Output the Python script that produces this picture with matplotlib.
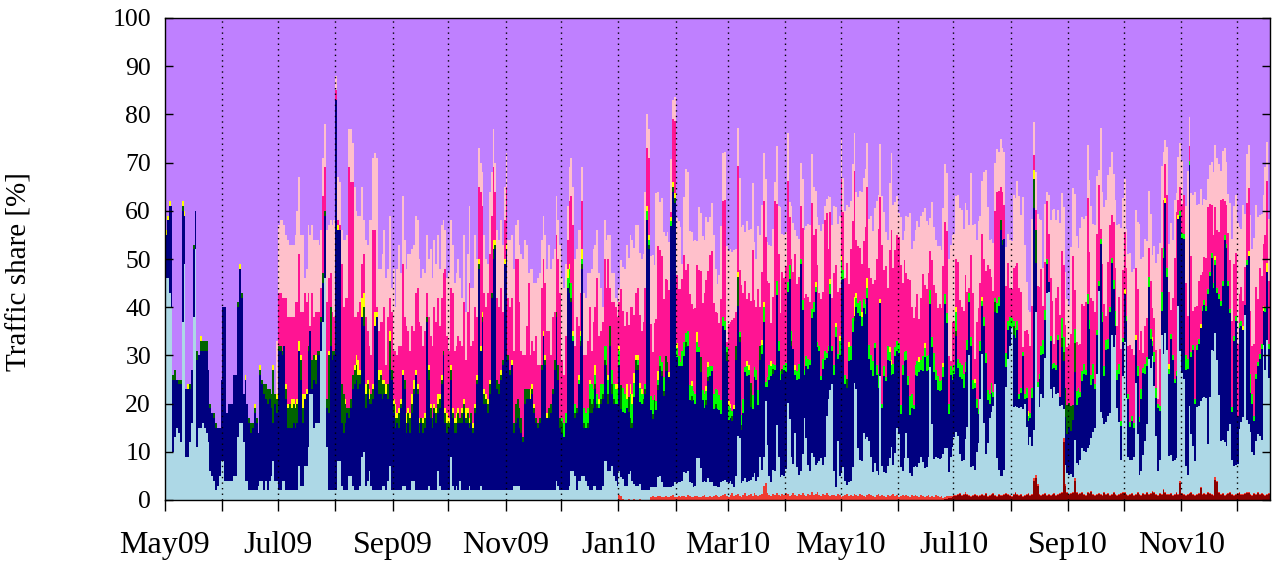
import numpy as np
import matplotlib
matplotlib.use("Agg")
import matplotlib.pyplot as plt

# ---------------- data (daily traffic shares in %, starting 2009-05-01) ----------------
start_date = "2009-05-01"
tick_labels = ["May09", "Jul09", "Sep09", "Nov09", "Jan10", "Mar10",
               "May10", "Jul10", "Sep10", "Nov10"]

light_blue = [
    46,46,43,40,10,13,15,14,12,37, 49,9,9,12,16,38,52,11,15,15, 16,15,14,12,6,5,4,2,3,5, 8,8,4,4,4,4,4,5,5,13, 16,16,12,4,4,2,2,2,2,2, 3,4,4,2,4,2,4,5,
    8,4,4,2,2,4,4,2,2,2, 2,2,2,2,7,3,3,7,7,11, 22,22,15,16,16,16,31,37,46,11, 2,2,2,2,2,8,8,3,2,2, 2,5,5,3,2,2,2,3,9,10, 3,4,6,3,2,2,2,2,2,3, 3,
    2,4,7,2,2,2,2,2,2,3, 3,2,2,2,4,4,2,2,2,2, 2,2,2,3,2,2,2,2,6,3, 2,2,2,2,2,9,3,2,3,2, 4,2,2,2,2,3,2,2,2,2, 2,3,2,2,2,2,2,2,2,2,
    2,2,2,2,2,2,2,2,2,3, 3,3,3,2,2,2,2,2,2,2, 2,2,2,2,2,2,2,2,2,2, 2,2,4,3,2,2,2,2,2,3, 6,6,5,2,4,4,5,5,4,3, 2,2,3,3,2,2,2,3,8,8, 6,
    6,7,5,4,3,5,4,4,3,3, 5,6,4,3,3,3,3,2,2,2, 2,2,2,2,2,2,4,4,3,2, 2,2,2,2,2,3,3,3,3,3, 5,5,5,3,3,2,2,8,8,6, 3,3,3,4,3,3,2,2,2,2,
    3,3,3,3,3,3,2,2,4,12, 12,3,3,3,3,3,3,4,4,3, 4,8,5,6,17,10,4,3,5,5, 14,8,4,4,4,5,19,16,8,6, 13,6,4,5,8,16,12,6,5,8, 8,6,6,7,8,6,8,16,20,22, 23,
    5,2,11,4,5,6,3,2,3,3, 6,23,22,10,7,7,13,12,12,11, 8,5,7,5,4,25,6,5,5,6, 8,10,6,9,14,13,6,5,8,13, 8,5,4,6,6,6,7,8,7,6, 6,8,27,15,8,8,8,8,8,9,
    10,10,5,8,10,12,13,12,8,7, 7,11,14,29,6,6,5,9,11,20, 29,15,8,11,16,17,18,23,8,5, 4,4,5,22,28,31,35,18,18,18, 18,18,18,19,14,10,12,10,10,34, 20,18,21,20,28,42,42,22,20,22, 21,
    21,18,18,6,4,4,4,4,3,8, 6,6,7,9,9,9,9,10,11,13, 14,25,42,17,16,14,15,16,17,33, 30,33,18,15,7,24,31,20,8,7, 7,8,23,12,4,5,8,11,14,28, 26,28,22,12,5,7,33,28,33,30,
    8,8,7,7,7,39,27,25,24,6, 4,18,12,10,7,18,18,18,20,20, 20,10,20,30,30,30,25,20,11,11, 11,10,13,14,7,6,6,6,13,15, 16,37,15,14,13,9,8,11,12,12, 11,31,26,32,24,
]

navy = [
    9,12,18,21,15,12,10,10,12,23, 10,14,14,11,11,14,8,18,15,16, 15,16,17,15,13,13,13,13,12,10, 17,32,36,14,16,16,16,21,21,27, 32,26,10,21,16,14,12,13,16,14, 11,22,20,20,17,18,17,14,
    8,16,14,29,29,26,28,19,13,13, 13,14,13,14,24,22,13,14,15,20, 13,1,10,8,14,14,6,8,13,8, 16,30,27,28,81,48,48,13,12,14, 16,12,14,20,22,23,21,21,29,26, 16,18,14,17,19,34,36,20,20,18, 19,
    20,17,20,23,16,13,14,13,17,23, 20,12,14,12,14,18,24,20,12,14, 12,13,35,22,15,13,16,14,12,16, 22,28,14,12,13,16,14,12,11,14, 12,14,16,14,14,12,14,12,16,22, 46,28,35,18,18,16,20,40,48,50,
    21,20,23,26,47,50,27,24,26,11, 13,14,12,12,10,18,19,19,19,20, 16,14,13,14,25,32,26,15,15,16, 20,25,34,22,13,12,11,14,42,40, 35,27,12,16,20,28,43,10,11,12, 16,16,16,20,17,17,18,18,20,18, 14,
    26,15,15,16,17,22,14,14,15,16, 13,9,11,18,24,24,17,18,18,20, 56,50,16,14,16,16,18,22,22,19, 24,24,23,54,61,58,26,24,24,24, 24,26,26,17,17,18,17,22,22,20, 17,15,16,20,22,23,16,16,16,16,
    14,32,31,25,13,13,13,16,24,27, 20,11,14,22,22,22,15,14,20,21, 15,20,24,28,3,12,20,22,20,21, 27,22,20,21,22,20,23,29,23,24, 12,18,20,43,30,9,15,20,22,28, 30,36,24,23,16,20,20,12,10,20, 7,
    20,31,17,25,40,39,20,20,25,25, 28,13,17,28,30,28,26,26,29,17, 18,20,24,20,18,15,12,20,19,22, 20,15,19,20,16,17,11,20,20,15, 15,12,14,12,19,19,19,18,19,23, 20,18,13,16,18,16,14,14,14,16,
    30,26,12,17,14,13,20,14,16,17, 15,14,16,11,25,16,17,9,6,10, 10,20,19,9,3,4,2,15,30,34, 51,48,48,4,6,4,0,15,14,16, 2,3,11,1,6,5,4,10,46,10, 0,6,8,9,8,6,2,10,6,4, 5,
    11,2,12,10,10,8,10,9,12,14, 12,14,13,14,16,16,30,24,11,11, 8,8,1,35,20,10,15,14,21,15, 12,2,6,10,7,7,10,16,12,7, 8,6,9,12,11,15,17,14,12,15, 6,2,5,8,13,10,5,20,27,15,
    17,24,21,16,17,18,28,28,29,20, 22,50,16,20,12,12,13,15,18,19, 18,31,25,19,13,14,14,20,28,32, 42,41,30,23,10,26,30,10,21,20, 18,2,32,35,8,10,7,13,14,16, 19,7,12,14,6,
]

dark_green = [
    0,0,0,0,1,2,0,1,1,1, 0,0,0,1,0,1,0,2,0,2, 2,2,2,0,1,0,1,1,0,0, 0,0,0,0,0,0,0,0,0,1, 0,1,0,0,0,1,2,1,1,1, 0,1,1,2,3,3,2,3,
    11,2,3,1,1,1,0,2,4,5, 4,4,4,4,0,4,3,0,0,1, 0,6,5,5,1,1,1,2,1,2, 12,8,2,1,0,0,0,8,8,4, 1,2,2,3,3,3,3,2,0,4, 3,2,1,2,2,0,0,3,4,3, 2,
    0,3,6,2,2,2,1,3,1,0, 2,2,2,3,2,1,0,1,2,1, 2,2,1,2,2,2,1,2,2,2, 1,1,2,2,1,2,1,2,2,2, 1,2,2,1,2,1,2,1,1,1, 1,0,1,2,1,2,2,1,2,1,
    2,2,1,1,0,0,1,1,0,2, 4,4,4,3,1,3,2,2,0,1, 1,1,1,1,1,0,1,0,2,2, 1,2,1,3,2,2,0,0,0,2, 1,0,1,1,0,1,1,1,0,1, 3,2,2,1,1,0,1,1,1,2, 2,
    4,2,1,0,0,0,5,0,0,0, 3,2,1,0,2,1,0,0,1,1, 0,1,0,1,2,0,1,1,1,1, 3,2,0,0,1,1,0,0,0,0, 0,1,0,0,1,0,0,0,0,3, 0,0,1,1,0,0,0,1,0,0,
    0,0,0,2,0,0,1,0,3,6, 1,1,0,0,0,0,5,0,0,0, 0,3,0,0,0,0,0,0,1,0, 0,0,0,1,0,0,0,0,1,0, 0,0,0,0,0,0,0,0,0,0, 0,0,0,0,0,0,0,0,0,0, 0,
    0,0,0,0,0,0,0,2,0,0, 0,1,0,0,0,0,0,0,0,0, 0,0,0,0,0,0,0,0,0,0, 0,0,0,0,0,0,0,0,0,0, 0,0,0,0,0,0,0,0,0,0, 0,0,0,0,0,0,0,0,0,0,
    0,0,0,0,0,0,1,0,0,0, 0,0,0,0,0,0,0,0,0,0, 0,0,0,0,0,0,0,2,0,0, 2,1,0,0,0,0,0,2,0,0, 0,0,0,0,0,0,0,0,6,7, 0,0,0,0,0,0,0,0,0,0, 0,
    0,0,2,2,6,6,5,5,3,6, 0,0,0,0,0,0,0,0,0,0, 0,0,0,0,0,0,0,0,0,0, 0,0,0,0,0,0,0,0,0,0, 0,0,0,0,0,0,0,0,0,0, 0,0,0,0,0,0,0,0,0,0,
    0,0,0,0,0,0,0,0,0,0, 0,0,0,0,0,0,0,0,0,0, 0,0,0,0,0,0,0,0,0,0, 0,0,0,0,0,0,0,0,0,0, 0,0,0,0,0,0,0,0,0,0, 0,0,0,0,0,
]

yellow = [
    1,1,1,0,0,0,0,0,0,1, 1,0,1,0,0,0,0,0,0,1, 0,0,0,0,0,0,0,0,0,0, 0,0,0,0,0,0,0,0,0,0, 1,0,0,1,0,0,0,0,1,0, 0,1,0,0,0,0,0,0,
    1,0,1,0,0,0,0,1,1,0, 2,1,1,1,2,1,3,1,1,0, 0,0,0,1,0,0,0,0,0,0, 1,0,0,0,0,1,0,0,0,1, 0,0,0,0,1,2,3,1,4,3, 2,1,2,0,1,3,1,2,1,1, 1,
    2,0,2,0,1,3,1,1,1,1, 0,2,1,1,2,2,1,1,1,0, 1,1,0,1,1,0,1,1,2,1, 1,0,1,2,1,1,1,1,2,1, 0,1,1,2,1,1,0,1,1,1, 1,1,1,1,1,1,1,0,2,1,
    0,0,1,0,1,1,0,0,1,0, 0,0,0,0,0,0,0,0,2,1, 1,0,0,0,0,1,1,1,0,0, 0,0,0,0,0,0,0,0,2,1, 0,1,0,0,1,1,2,0,0,0, 1,0,0,2,0,1,0,0,0,0, 1,
    0,0,0,1,1,1,0,0,0,3, 0,2,2,2,1,1,1,1,0,0, 1,1,0,0,0,0,2,0,0,0, 0,0,1,1,1,1,1,0,0,0, 0,0,0,0,1,0,0,2,0,0, 0,0,1,1,0,0,0,0,0,0,
    0,0,0,0,1,1,0,1,0,1, 0,0,0,0,1,1,0,0,0,0, 0,0,1,1,0,0,0,1,0,0, 0,0,0,0,0,0,0,0,0,0, 1,0,0,0,0,0,0,0,0,0, 0,1,0,0,0,0,0,0,0,1, 0,
    0,1,0,1,1,0,0,0,1,0, 0,4,1,0,0,1,0,0,2,0, 0,0,0,0,0,1,0,0,0,0, 1,1,0,0,0,0,0,0,0,0, 0,0,0,0,0,0,1,0,0,1, 0,0,0,0,0,0,0,0,0,1,
    0,0,0,0,0,0,1,0,0,0, 0,0,0,0,0,0,1,0,0,0, 1,0,0,0,0,0,0,0,0,0, 0,0,0,0,0,0,0,0,0,0, 0,0,0,0,0,1,0,0,2,0, 0,0,0,0,0,0,0,0,0,0, 0,
    0,0,0,0,0,0,0,0,0,0, 0,0,0,0,0,0,0,0,0,0, 0,0,0,0,0,0,0,0,0,0, 0,0,0,0,0,0,1,0,0,0, 0,0,1,0,0,0,0,0,0,0, 0,1,0,0,0,0,0,0,1,0,
    1,0,0,0,0,1,0,0,0,0, 0,0,0,0,0,0,0,1,0,0, 0,0,0,0,0,1,0,0,0,0, 0,0,0,0,0,0,0,0,0,0, 1,0,0,1,0,0,0,0,0,0, 0,1,0,2,0,
]

# bright green: first appears in Dec 2009 (values from day 179 on)
green_first_day = 179
green = [
    0,0,0,0,0,0,0,0,0,0, 0,0,0,0,0,0,0,0,0,0, 0,0,0,0,0,0,0,0,0,0, 0,0,0,0,0,1,3,2,2,3, 3,1,2,0,1,1,1,3,3,3, 3,4,2,2,2,1,3,2,3,4, 3,
    0,3,3,3,3,3,0,5,4,2, 0,5,4,3,0,1,3,2,1,1, 2,1,3,3,1,2,1,2,2,3, 0,0,0,1,0,0,2,2,1,3, 3,2,3,3,2,2,2,2,1,0, 2,3,2,2,2,1,3,3,4,3,
    3,2,2,1,3,2,1,0,0,0, 1,2,3,1,2,1,0,3,2,2, 3,0,2,3,1,2,3,2,1,1, 3,2,2,0,1,2,2,3,2,0, 1,2,3,1,2,1,2,2,1,2, 2,1,1,1,1,2,2,1,1,2, 1,
    2,2,1,3,4,2,2,0,3,3, 3,0,2,2,3,2,2,2,2,3, 3,3,1,2,3,0,1,2,1,3, 2,2,2,2,2,2,2,2,2,2, 2,4,3,1,2,3,2,2,3,2, 3,3,3,2,4,2,3,2,2,2,
    2,2,2,2,2,2,4,2,3,3, 3,2,2,2,2,2,1,2,1,2, 1,2,2,2,2,2,1,1,2,2, 0,0,0,3,2,2,2,1,2,2, 1,1,1,1,2,1,1,2,0,0, 1,1,2,3,2,1,0,1,1,1, 1,
    1,0,4,3,0,0,0,0,0,3, 3,2,1,2,2,1,2,2,2,3, 1,1,1,1,2,2,2,2,1,1, 2,3,2,2,1,1,0,1,1,1, 1,1,0,2,1,2,1,2,2,2, 2,1,2,2,1,1,4,2,0,2,
    1,1,1,1,1,0,1,1,1,3, 2,1,1,1,1,1,1,0,1,1, 1,1,1,1,1,1,1,1,1,1, 1,1,1,1,1,1,1,0,1,1, 0,0,1,0,4,2,1,1,1,1, 1,0,1,0,1,
]

# pink / light pink: present from late June 2009 (values from day 58 on)
pink_first_day = 58
pink = [
    0,0,0,11,11,11,10,18,18,18, 17,17,21,20,18,9,17,21,18,11, 1,14,8,9,8,8,6,16,9,20, 15,7,8,7,2,1,1,25,18,21, 23,50,45,40,10,8,10,14,7,8, 14,10,9,8,32,17,1,8,10,12, 15,
    4,14,7,12,10,11,12,13,11,22, 13,18,16,13,14,10,16,20,20,19, 15,17,5,10,14,15,20,18,20,14, 16,16,29,16,14,16,24,14,14,15, 16,13,20,10,20,28,14,17,20,12, 15,32,22,20,18,22,26,16,15,10,
    17,16,17,10,8,12,12,13,13,15, 30,29,22,14,17,7,13,22,7,9, 11,17,12,11,16,15,15,17,16,10, 15,10,16,22,26,12,10,16,6,13, 18,22,12,19,10,8,10,11,12,14, 15,7,14,12,24,13,11,13,18,12, 24,
    8,14,17,16,14,9,20,16,14,15, 15,16,18,12,13,14,14,12,15,20, 12,16,15,10,15,17,26,22,22,16, 16,17,17,1,13,15,14,14,15,15, 18,13,14,19,16,17,18,14,16,18, 18,21,22,19,23,24,19,16,16,15,
    21,24,25,1,16,17,19,18,7,22, 13,27,22,18,13,15,17,30,14,13, 21,8,14,21,30,20,17,8,14,34, 16,18,12,20,18,20,21,10,15,16, 23,18,18,11,15,15,13,13,12,22, 14,11,16,11,16,14,27,29,20,14, 10,
    19,12,13,10,16,12,20,24,12,20, 20,26,11,12,11,10,12,16,19,16, 16,16,13,22,30,21,33,20,23,12, 20,27,20,20,22,22,29,17,19,16, 20,24,18,18,12,14,8,13,17,12, 14,17,8,16,14,16,14,16,15,20,
    15,17,10,1,10,9,10,20,13,12, 13,18,10,1,17,18,4,16,21,12, 13,12,17,26,26,22,21,18,23,22, 7,10,7,14,12,6,6,11,13,12, 22,20,1,13,12,16,14,17,3,4, 20,18,16,7,10,12,10,12,13,4, 14,
    10,17,14,15,13,12,12,15,31,8, 10,9,10,14,12,14,20,14,16,13, 15,20,20,2,10,13,5,16,17,9, 12,9,9,14,15,14,12,10,10,16, 14,14,14,16,14,12,3,8,8,6, 10,6,7,8,1,12,9,10,7,15,
    15,5,12,25,33,3,5,6,8,15, 9,3,20,7,19,8,12,10,7,9, 10,17,14,10,10,10,12,13,21,17, 7,8,10,10,18,15,13,15,6,7, 5,8,12,13,13,10,15,18,13,18, 14,13,15,17,13,
]

light_pink = [
    0,0,11,14,15,16,15,13,16,15, 15,15,14,19,16,16,16,3,7,14, 19,14,16,15,15,14,12,8,9,15, 11,11,18,20,3,9,9,7,14,12, 13,8,11,8,27,22,20,18,16,7, 16,18,26,28,15,16,31,13,11,14, 16,
    18,10,17,5,17,9,18,21,15,14, 16,12,16,20,16,18,16,14,13,10, 16,12,12,12,18,14,14,12,13,12, 15,11,8,12,16,14,10,14,15,16, 13,10,14,10,12,16,12,11,15,12, 8,6,7,12,10,6,13,9,8,6,
    14,14,14,14,7,7,12,14,13,17, 7,8,12,20,20,24,17,2,18,15, 14,11,18,19,10,9,10,13,18,18, 12,13,8,8,10,17,18,15,7,7, 8,8,18,14,20,13,7,13,12,14, 7,17,15,13,10,13,9,3,8,10, 5,
    11,6,6,2,3,3,6,9,12,14, 14,15,14,14,14,13,13,15,14,20, 7,6,14,20,12,26,11,10,12,14, 9,10,10,11,4,5,12,14,13,3, 12,21,19,13,15,14,14,5,13,12, 14,11,13,10,8,10,14,9,6,10,
    15,10,10,20,15,15,14,14,13,8, 19,12,14,10,16,13,15,14,12,10, 13,15,14,10,12,8,8,16,14,4, 12,10,22,8,9,7,10,3,11,10, 5,10,8,9,10,14,14,15,16,10, 10,8,10,14,14,14,3,3,11,3, 15,
    14,12,14,15,8,7,14,12,16,10, 12,8,10,10,12,15,13,12,9,10, 13,11,15,12,7,11,10,12,7,10, 14,16,13,10,8,5,10,9,6,12, 13,14,12,16,16,15,19,17,13,16, 14,10,7,12,12,11,13,12,12,12,
    12,12,20,24,18,18,13,14,19,20, 17,15,17,13,17,14,28,17,18,14, 11,18,21,12,6,8,10,10,9,8, 10,9,11,8,6,10,10,15,14,17, 19,16,31,18,10,5,7,18,7,8, 15,14,10,8,12,2,8,12,19,28, 16,
    16,19,12,12,11,10,8,18,14,20, 22,20,24,18,18,18,11,15,19,16, 18,12,3,21,15,20,24,18,12,13, 10,14,21,15,25,15,11,8,19,19, 16,18,12,14,26,15,20,18,16,12, 14,11,15,18,30,22,17,10,5,10,
    10,18,12,12,4,9,9,9,0,16, 30,6,13,24,24,21,16,18,14,12, 12,6,8,9,13,13,15,14,6,10, 11,9,8,12,17,12,12,25,14,12, 20,11,10,9,20,20,22,17,17,11, 13,10,14,8,13,
]

# red: visible from Jan 2010 (values from day 240 on)
red_first_day = 240
red = [
    0,0,0,0,0,1,0.8,0.3,0,0, 0.3,0,0,0.3,0,0,0.3,0,0,0, 0,0,0.6,0.8,0.7,0.6,0.8,0.9,0.7,0.6, 0.8,0.7,0.6,0.8,1,0.7,0.6,0.8,0.7,0.9, 0.8,0.7,1,0.8,0.6,0.7,0.9,0.8,0.7,0.6, 0.8,1,0.7,0.6,0.8,0.7,0.9,1,0.8,0.7,
    0.8,1,1.2,0.8,0.6,1,1.4,0.8,1,1.2, 0.8,0.6,1,1.5,0.8,1,1.2,0.8,1.5,1, 0.8,1,1.2,3,3.5,1.5,1,0.8,1.2,1, 1.5,1,0.8,1.2,1,1.5,1.2,0.8,1,1.4, 1,0.8,1.2,1,1.5,1,0.8,1.2,1,1.7, 1,1.2,1.7,1,0.8,1.2,1,1.5,1,0.8, 1,
    1,0.8,1.2,1,0.6,0.8,1,1.2,0.8,1, 0.8,1.2,1,0.8,1.2,1,0.8,0.6,1,1.2, 1,0.8,0.6,1,1.2,0.8,1,0.8,0.6,1, 0.8,1,1.2,0.8,1,0.6,0.8,1,0.8,1, 0.8,0.6,1,0.8,1,0.8,0.6,1,0.8,0.6, 0.8,1,0.6,0.8,0.6,1,0.8,0.6,0.8,0.5,
    0.5,0.5,0.4,0.4,0.3,0.3,0.3,0.3,0.3,0.3, 0.2,0.3,0.2,0.2,0.3,0.2,0.2,0.2,0.3,0.2, 0.2,0.2,0.3,0.2,0.2,0.2,0.2,0.2,0.2,0.2, 0.2,0.2,0.2,0.3,0.2,0.2,0.2,0.2,0.2,0.2, 0.2,0.2,0.2,0.2,0.2,0.2,0.2,0.2,0.5,0.6, 0.4,0.2,0.2,0.2,0.2,0.2,0.2,0.2,0.2,0.2, 0.2,
    0.2,0.2,0.2,0.8,0.3,0.2,0.2,0.2,0.2,0.5, 0.2,0.2,0.2,0.2,0.2,0.2,0.2,0.2,0.2,0.2, 0.2,0.2,0.2,0.2,0.2,0.2,0.2,0.2,0.2,0.2, 0.2,0.2,0.2,0.2,0.2,0.2,0.2,0.2,0.2,0.2, 0.2,0.2,0.2,0.2,0.2,0.2,0.2,0.2,0.2,0.2, 0.2,0.2,0.2,0.2,0.2,0.2,0.2,0.2,0.2,0.2,
    0.2,0.2,0.2,0.2,0.2,0.2,0.5,0.2,0.2,0.2, 0.2,0.2,0.2,0.2,0.2,0.2,0.2,0.2,0.2,0.2, 0.2,0.2,0.2,0.2,0.2,0.5,0.2,0.2,0.2,0.2, 0.2,0.2,0.2,0.2,0.2,0.2,0.2,0.2,0.2,0.2, 0.2,0.2,0.2,0.2,0.2,0.2,0.2,0.2,0.2,0.2, 0.2,0.2,0.2,0.2,0.2,
]

# dark red: appears from July 2010 (values from day 421 on)
dark_red_first_day = 421
dark_red = [
    0.2,0.3,0.5,0.5,0.6,0.8,0.8,1,1.2,0.8, 1,1.3,1,0.8,0.6,0.8,1,0.8,0.6,0.8, 1,0.8,1.2,0.6,0.8,1,1.2,0.8,0.6,1, 0.8,0.8,1,1.2,1,0.8,0.6,1,1.4,1, 0.8,1,0.6,0.8,1,1.2,0.8,1,4,4.5, 3,1,0.8,1,1.2,0.8,1,0.8,1,1.2, 0.8,
    1,1.2,1.5,12,3,1.5,1,1.2,1.5,4, 1.5,1,1.2,1.5,1,0.8,1.5,1.2,1.7,1, 0.8,1,1.2,1,0.8,1.5,1,1.2,0.8,1, 1.5,1,0.8,1,1.2,1.5,1.5,1,0.8,1, 1.2,0.8,1,1.5,1,0.8,1.2,1,1.5,1, 1.2,1.7,1.5,1,0.8,1.2,1,2,1.5,1,
    1,1.2,0.8,1,1.5,1,3.5,1.2,1,0.8, 1,1.2,1.5,1,0.8,1,1.2,2.4,1,1.2, 1,1.5,1.2,1,0.8,4.2,3.8,1.5,1,1.2, 0.8,1,1.2,1.5,1,0.8,1,1.2,1.5,1, 1,1.2,1.5,1.5,1,0.8,1.2,1,1.5,1, 1.2,1,0.8,1,1.2,
]

# ---------------- assemble ----------------
n_days = len(light_blue)


def full_series(values, first_day):
    out = np.zeros(n_days)
    v = np.asarray(values, dtype=float)
    out[first_day:first_day + len(v)] = v[: n_days - first_day]
    return out


layers = [
    ("dark red", full_series(dark_red, dark_red_first_day), "#8b0000"),
    ("red", full_series(red, red_first_day), "#f03c32"),
    ("light blue", full_series(light_blue, 0), "#add8e6"),
    ("navy", full_series(navy, 0), "#000080"),
    ("dark green", full_series(dark_green, 0), "#006400"),
    ("green", full_series(green, green_first_day), "#00ff00"),
    ("yellow", full_series(yellow, 0), "#ffff00"),
    ("pink", full_series(pink, pink_first_day), "#ff1493"),
    ("light pink", full_series(light_pink, pink_first_day), "#ffc0cb"),
]

start = np.datetime64(start_date)
day = np.arange(n_days)

plt.rcParams["font.family"] = ["Liberation Serif", "DejaVu Serif"]

fig = plt.figure(figsize=(12.84, 5.66), dpi=100)
ax = fig.add_axes([165 / 1284, 66 / 566, 1105 / 1284, 482 / 566])

bottom = np.zeros(n_days)
for name, vals, col in layers:
    ax.bar(day, vals, width=1.0, bottom=bottom, align="edge", color=col,
           linewidth=0, antialiased=False, label=name)
    bottom = bottom + vals
rest = 100 - bottom  # remaining share ("other")
ax.bar(day, rest, width=1.0, bottom=bottom, align="edge", color="#bf80ff",
       linewidth=0, antialiased=False, label="other")

ax.set_xlim(0, n_days)
ax.set_ylim(0, 100)

# month positions
months = np.arange(np.datetime64("2009-05"), np.datetime64("2011-01"), dtype="datetime64[M]")
mpos = (months.astype("datetime64[D]") - start).astype(int)
mpos = mpos[mpos < n_days]
for p in mpos[1:]:
    ax.axvline(p, color="black", lw=1.0, ls=(0, (1, 3)), zorder=5)

ax.set_xticks(mpos[::2])
ax.set_xticklabels(tick_labels[: len(mpos[::2])])
ax.set_xticks(mpos[1::2], minor=True)
ax.tick_params(axis="x", which="both", direction="out", length=8, width=1,
               labelsize=23, pad=14, top=False)

ax.set_yticks(np.arange(0, 101, 10))
ax.tick_params(axis="y", which="major", direction="in", length=6, width=1,
               labelsize=18.5, pad=10, right=True)

for s in ax.spines.values():
    s.set_linewidth(1.0)
    s.set_zorder(6)

fig.text(20 / 1284, 1 - 272 / 566, "Traffic share [%]", rotation=90,
         ha="center", va="center", fontsize=21)

fig.savefig("out.png", dpi=100)
